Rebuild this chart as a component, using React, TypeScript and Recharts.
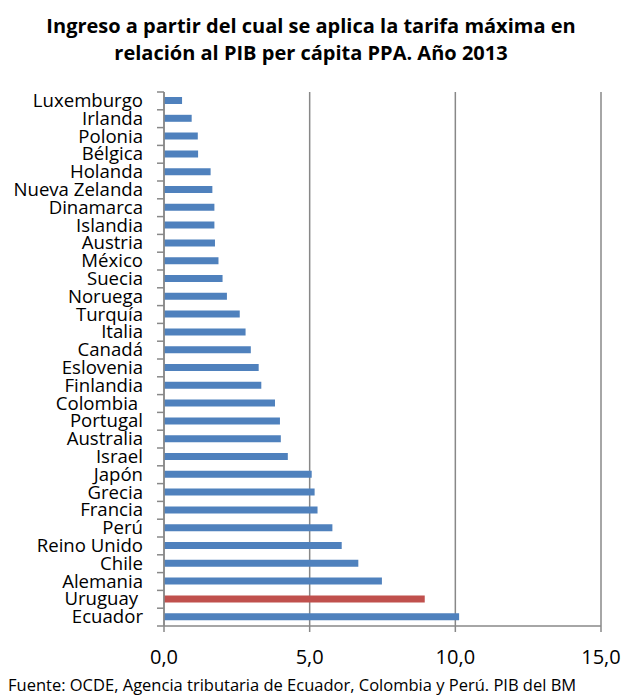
import { BarChart, Bar, XAxis, YAxis, CartesianGrid, Cell } from 'recharts'

const countries = [
  'Luxemburgo', 'Irlanda', 'Polonia', 'Bélgica', 'Holanda', 'Nueva Zelanda', 'Dinamarca',
  'Islandia', 'Austria', 'México', 'Suecia', 'Noruega', 'Turquía', 'Italia', 'Canadá',
  'Eslovenia', 'Finlandia', 'Colombia ', 'Portugal', 'Australia', 'Israel', 'Japón',
  'Grecia', 'Francia', 'Perú', 'Reino Unido', 'Chile', 'Alemania', 'Uruguay ', 'Ecuador',
]
const values = [
  0.62, 0.95, 1.16, 1.17, 1.60, 1.66, 1.73,
  1.73, 1.75, 1.87, 2.01, 2.16, 2.60, 2.80, 2.98,
  3.25, 3.34, 3.81, 3.98, 4.01, 4.25, 5.07,
  5.17, 5.27, 5.78, 6.10, 6.67, 7.48, 8.95, 10.13,
]
const highlighted = ['Uruguay ']
const xTicks = [0, 5, 10, 15]

const data = countries.map((c, i) => ({ name: c, value: values[i] }))

const BLUE = '#4F81BD'
const RED = '#C0504D'
const GRID = '#888888'
const FONT = '"Open Sans", sans-serif'

const W = 622
const H = 675
const TOP = 92
const LEFT = 164
const RIGHT = 21
const XAXIS_H = 49
const BAND = (H - XAXIS_H - TOP) / countries.length

function CountryTick(props: any) {
  const { y, payload, index } = props
  return (
    <g>
      <text
        x={LEFT - 21} y={y} dy={6} textAnchor="end"
        fontFamily={FONT} fontSize={18.6} fill="#000" style={{ whiteSpace: 'pre' }}
      >
        {payload.value}
      </text>
      <line x1={LEFT - 7} x2={LEFT} y1={y - BAND / 2} y2={y - BAND / 2} stroke={GRID} strokeWidth={1.5} />
      {index === countries.length - 1 && (
        <line x1={LEFT - 7} x2={LEFT} y1={y + BAND / 2} y2={y + BAND / 2} stroke={GRID} strokeWidth={1.5} />
      )}
    </g>
  )
}

function ValueTick(props: any) {
  const { x, y, payload } = props
  return (
    <text x={x} y={y} dy={30} textAnchor="middle" fontFamily={FONT} fontSize={20} fill="#000">
      {payload.value.toFixed(1).replace('.', ',')}
    </text>
  )
}

export default function App() {
  return (
    <div style={{ position: 'absolute', left: 0, top: 0, width: W, height: 695, background: '#fff', fontFamily: FONT, overflow: 'hidden' }}>
      <div style={{
        position: 'absolute', top: 12, left: 0, width: W, textAlign: 'center',
        fontWeight: 700, fontSize: 20, lineHeight: '27px', color: '#000',
      }}>
        Ingreso a partir del cual se aplica la tarifa máxima en<br />
        relación al PIB per cápita PPA. Año 2013
      </div>
      <div style={{ position: 'absolute', top: 0, left: 0 }}>
        <BarChart
          width={W} height={H} data={data} layout="vertical"
          margin={{ top: TOP, right: RIGHT, left: 0, bottom: 0 }}
        >
          <CartesianGrid horizontal={false} stroke={GRID} strokeWidth={1.5} />
          <XAxis
            type="number" domain={[0, 15]} ticks={xTicks} height={XAXIS_H}
            axisLine={{ stroke: GRID, strokeWidth: 1.5 }}
            tickLine={{ stroke: GRID, strokeWidth: 1.5 }} tickSize={6}
            tick={<ValueTick />} interval={0}
          />
          <YAxis
            type="category" dataKey="name" width={LEFT} interval={0}
            axisLine={{ stroke: GRID, strokeWidth: 1.5 }} tickLine={false}
            tick={<CountryTick />}
          />
          <Bar dataKey="value" barSize={7} isAnimationActive={false}>
            {data.map(d => (
              <Cell key={d.name} fill={highlighted.includes(d.name) ? RED : BLUE} />
            ))}
          </Bar>
        </BarChart>
      </div>
      <div style={{ position: 'absolute', top: 675, left: 8, fontSize: 16.5, lineHeight: '20px', color: '#000', whiteSpace: 'nowrap' }}>
        Fuente: OCDE, Agencia tributaria de Ecuador, Colombia y Perú. PIB del BM
      </div>
    </div>
  )
}
